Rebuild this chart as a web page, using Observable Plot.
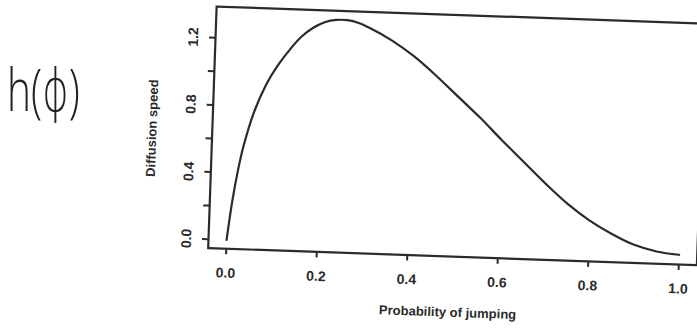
<!DOCTYPE html>
<html>
<head>
<meta charset="utf-8">
<script src="https://cdn.jsdelivr.net/npm/d3@7"></script>
<script src="https://cdn.jsdelivr.net/npm/@observablehq/plot@0.6"></script>
<style>
  html, body { margin: 0; padding: 0; background: #fff; overflow: hidden; width: 697px; height: 334px; }
  #wrap { position: relative; width: 697px; height: 334px; overflow: hidden; }
  #wrap svg { position: absolute; left: 0; top: 0; transform-origin: 226px 239.3px; transform: rotate(2deg); }
  #note { position: absolute; left: 7px; top: 60px; font-family: "Open Sans", "DejaVu Sans", sans-serif; font-size: 58px; font-weight: 300; color: #222; transform-origin: 0 0; transform: scaleX(0.7); white-space: nowrap; line-height: 1; }
</style>
</head>
<body>
<div id="wrap"><div id="note">h(ϕ)</div></div>
<script>
// Probability of jumping (phi) and diffusion speed h(phi)
const phi   = [0, 0.01, 0.02, 0.03, 0.05, 0.075, 0.1, 0.125, 0.15, 0.175, 0.2, 0.225, 0.25, 0.275, 0.3, 0.35, 0.4, 0.45, 0.5, 0.55, 0.6, 0.65, 0.7, 0.75, 0.8, 0.85, 0.9, 0.95, 1.0];
const speed = [0, 0.24, 0.42, 0.56, 0.76, 0.93, 1.05, 1.145, 1.225, 1.28, 1.315, 1.331, 1.332, 1.318, 1.29, 1.22, 1.13, 1.02, 0.9, 0.78, 0.65, 0.525, 0.4, 0.285, 0.19, 0.115, 0.055, 0.02, 0.005];
const xTicks = [0, 0.2, 0.4, 0.6, 0.8, 1.0];
const yTicks = [0, 0.2, 0.4, 0.6, 0.8, 1.0, 1.2];
const yLabels = [0, 0.4, 0.8, 1.2];
const xTitle = "Probability of jumping";
const yTitle = "Diffusion speed";

const data = phi.map((p, i) => ({phi: p, speed: speed[i]}));
const ink = "#2b2b2b";
const font = "'Liberation Sans', Arial, sans-serif";

const chart = Plot.plot({
  width: 697,
  height: 334,
  marginLeft: 208,
  marginRight: 0,
  marginTop: 6.5,
  marginBottom: 85.8,
  style: {fontFamily: font, background: "transparent", overflow: "visible"},
  x: {domain: [-0.04, 1.04]},
  y: {domain: [-0.053, 1.386]},
  marks: [
    Plot.frame({stroke: ink, strokeWidth: 2.2}),
    Plot.axisX({ticks: xTicks, tickSize: 6, tickPadding: 13, stroke: ink, strokeWidth: 2,
      tickFormat: d => d.toFixed(1), fontSize: 14, fontWeight: "bold", fill: ink, label: null}),
    Plot.axisY({ticks: yTicks, tickSize: 6, tickFormat: () => "", stroke: ink, strokeWidth: 2, label: null}),
    Plot.text(yLabels, {y: d => d, text: d => d.toFixed(1), frameAnchor: "left", dx: -22,
      rotate: -90, textAnchor: "middle", lineAnchor: "middle", fontSize: 14, fontWeight: "bold", fill: ink}),
    Plot.text([yTitle], {text: d => d, frameAnchor: "left", dx: -60, dy: 3, rotate: -90,
      textAnchor: "middle", lineAnchor: "middle", fontSize: 13, fontWeight: "bold", fill: ink}),
    Plot.text([xTitle], {text: d => d, frameAnchor: "bottom", dx: -3, dy: 56,
      textAnchor: "middle", lineAnchor: "middle", fontSize: 13, fontWeight: "bold", fill: ink}),
    Plot.line(data, {x: "phi", y: "speed", stroke: ink, strokeWidth: 2.2, curve: "catmull-rom"})
  ]
});
document.getElementById("wrap").appendChild(chart);
</script>
</body>
</html>
